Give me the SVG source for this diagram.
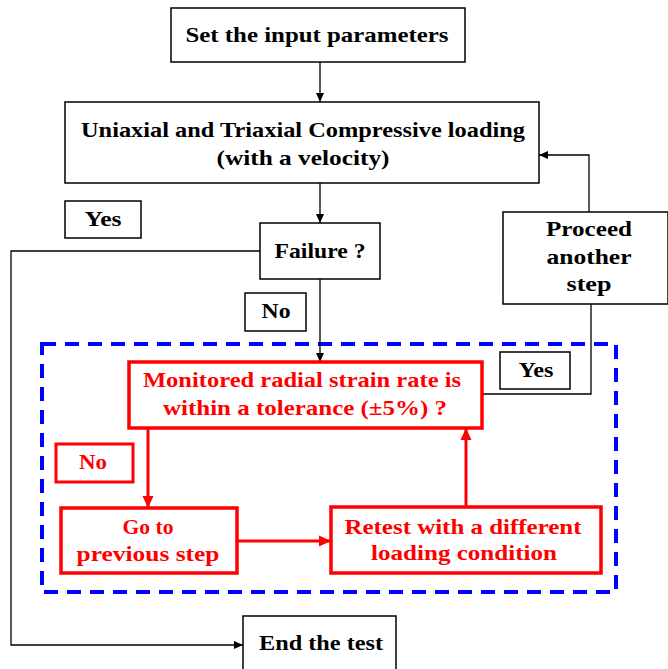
<svg xmlns="http://www.w3.org/2000/svg" width="668" height="669" viewBox="0 0 668 669">
<defs>
<style>
.box{fill:#fff;stroke:#000;stroke-width:1.5}
.rbox{fill:#fff;stroke:#ff0000;stroke-width:3.5}
.t{font-family:"Liberation Serif","Times New Roman",serif;font-weight:bold;font-size:21px;fill:#000;text-anchor:middle}
.r{fill:#ff0000}
.ln{fill:none;stroke:#000;stroke-width:1.3}
.rl{fill:none;stroke:#ff0000;stroke-width:3}
</style>
<marker id="ab" markerUnits="userSpaceOnUse" markerWidth="10" markerHeight="10" refX="9" refY="5" orient="auto">
<path d="M0,1 L9,5 L0,9 Z" fill="#000"/>
</marker>
<marker id="ar" markerUnits="userSpaceOnUse" markerWidth="14" markerHeight="14" refX="12" refY="7" orient="auto">
<path d="M0,1.5 L12,7 L0,12.5 Z" fill="#ff0000"/>
</marker>
</defs>
<rect x="0" y="0" width="668" height="669" fill="#fff"/>

<g id="group-dashed">
<rect x="42" y="344" width="574" height="248" fill="none" stroke="#0000ff" stroke-width="4" stroke-dasharray="14 9"/>
</g>

<g id="connectors">
<line class="ln" x1="320" y1="62" x2="320" y2="102" marker-end="url(#ab)"/>
<line class="ln" x1="320" y1="183" x2="320" y2="223" marker-end="url(#ab)"/>
<line class="ln" x1="320" y1="279" x2="320" y2="362" marker-end="url(#ab)"/>
<polyline class="ln" points="260,251 11,251 11,645 243,645" marker-end="url(#ab)"/>
<polyline class="ln" points="482,394 591,394 591,304"/>
<polyline class="ln" points="589,212 589,155 539,155" marker-end="url(#ab)"/>
<line class="rl" x1="148" y1="428" x2="148" y2="508" marker-end="url(#ar)"/>
<line class="rl" x1="237" y1="541" x2="331" y2="541" marker-end="url(#ar)"/>
<line class="rl" x1="466" y1="507" x2="466" y2="428" marker-end="url(#ar)"/>
</g>

<g id="node-set">
<rect class="box" x="171" y="8" width="294" height="54"/>
<text class="t" x="317" y="42" textLength="263" lengthAdjust="spacingAndGlyphs">Set the input parameters</text>
</g>

<g id="node-loading">
<rect class="box" x="65" y="102" width="474" height="81"/>
<text class="t" x="303" y="137" textLength="444" lengthAdjust="spacingAndGlyphs">Uniaxial and Triaxial Compressive loading</text>
<text class="t" x="303" y="165" textLength="173" lengthAdjust="spacingAndGlyphs">(with a velocity)</text>
</g>

<g id="label-yes1">
<rect class="box" x="65" y="201" width="76" height="37"/>
<text class="t" x="103" y="226" textLength="37" lengthAdjust="spacingAndGlyphs">Yes</text>
</g>

<g id="node-failure">
<rect class="box" x="260" y="223" width="120" height="56"/>
<text class="t" x="320" y="258" textLength="91" lengthAdjust="spacingAndGlyphs">Failure ?</text>
</g>

<g id="node-proceed">
<rect class="box" x="503" y="212" width="165" height="92"/>
<text class="t" x="589" y="236" textLength="86" lengthAdjust="spacingAndGlyphs">Proceed</text>
<text class="t" x="589" y="264" textLength="85" lengthAdjust="spacingAndGlyphs">another</text>
<text class="t" x="589" y="291" textLength="45" lengthAdjust="spacingAndGlyphs">step</text>
</g>

<g id="label-no1">
<rect class="box" x="245" y="293" width="61" height="38"/>
<text class="t" x="276" y="318" textLength="29" lengthAdjust="spacingAndGlyphs">No</text>
</g>

<g id="node-monitored">
<rect class="rbox" x="129" y="362" width="353" height="66"/>
<text class="t r" x="302" y="387" textLength="318" lengthAdjust="spacingAndGlyphs">Monitored radial strain rate is</text>
<text class="t r" x="305" y="415" textLength="284" lengthAdjust="spacingAndGlyphs">within a tolerance (±5%) ?</text>
</g>

<g id="label-yes2">
<rect class="box" x="500" y="352" width="70" height="37"/>
<text class="t" x="536" y="377" textLength="35" lengthAdjust="spacingAndGlyphs">Yes</text>
</g>

<g id="label-no2">
<rect class="rbox" x="56" y="444" width="77" height="38" style="stroke-width:3"/>
<text class="t r" x="93" y="469" textLength="28" lengthAdjust="spacingAndGlyphs">No</text>
</g>

<g id="node-goto">
<rect class="rbox" x="61" y="508" width="176" height="65"/>
<text class="t r" x="148" y="534" textLength="51" lengthAdjust="spacingAndGlyphs">Go to</text>
<text class="t r" x="148" y="561" textLength="143" lengthAdjust="spacingAndGlyphs">previous step</text>
</g>

<g id="node-retest">
<rect class="rbox" x="331" y="507" width="270" height="66"/>
<text class="t r" x="463" y="534" textLength="237" lengthAdjust="spacingAndGlyphs">Retest with a different</text>
<text class="t r" x="464" y="560" textLength="186" lengthAdjust="spacingAndGlyphs">loading condition</text>
</g>

<g id="node-end">
<rect class="box" x="243" y="616" width="153" height="60"/>
<text class="t" x="321" y="650" textLength="124" lengthAdjust="spacingAndGlyphs">End the test</text>
</g>
</svg>
